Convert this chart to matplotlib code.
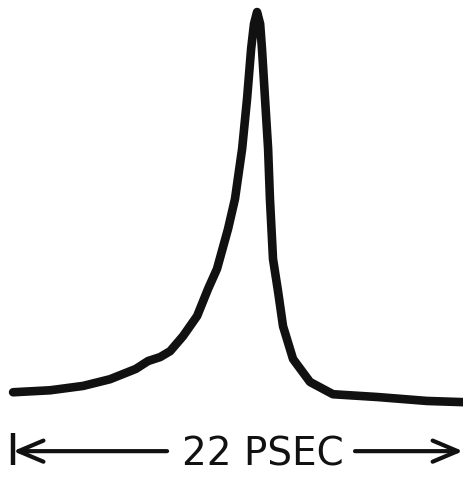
import numpy as np
import matplotlib.pyplot as plt

# pulse shape, time in psec, intensity normalised to the peak
time_ps = [0.00, 1.81, 3.42, 4.74, 6.00, 6.60, 7.19, 7.68, 8.31, 9.00, 9.53,
           9.97, 10.51, 10.85, 11.20, 11.44, 11.64, 11.78, 11.93,
           12.08, 12.17, 12.32, 12.47, 12.56, 12.71, 12.96, 13.20, 13.69,
           14.52, 15.64, 17.80, 20.24, 22.00]
intensity = [0.030, 0.035, 0.046, 0.063, 0.089, 0.109, 0.119, 0.134, 0.172, 0.223, 0.291,
             0.342, 0.443, 0.519, 0.646, 0.772, 0.899, 0.962, 0.992,
             0.962, 0.899, 0.772, 0.646, 0.519, 0.367, 0.284, 0.197, 0.114,
             0.056, 0.025, 0.018, 0.008, 0.005]

span_ps = 22
span_label = "22 PSEC"

fig = plt.figure(figsize=(4.63, 4.81), dpi=100)
ax = fig.add_axes([0, 0, 1, 1])
ax.set_xlim(-0.64, 22.0)
ax.set_ylim(-0.192, 1.025)
ax.axis("off")

ax.plot(time_ps, intensity, color="#111111", lw=6.2,
        solid_capstyle="round", solid_joinstyle="round")

# time-scale bar under the trace
y_bar = -0.119
arrow_kw = dict(arrowstyle="->,head_length=0.9,head_width=0.38",
                color="#111111", lw=3.0, mutation_scale=20,
                shrinkA=0, shrinkB=0)
ax.annotate("", xy=(0, y_bar), xytext=(7.53, y_bar), arrowprops=arrow_kw,
            annotation_clip=False)
ax.annotate("", xy=(span_ps, y_bar), xytext=(16.72, y_bar), arrowprops=arrow_kw,
            annotation_clip=False)
ax.plot([0, 0], [y_bar - 0.035, y_bar + 0.045], color="#111111", lw=3.2,
        solid_capstyle="butt", clip_on=False)
ax.text(12.2, -0.152, span_label, ha="center", va="baseline",
        fontsize=28, color="#111111", family="DejaVu Sans")

fig.savefig("out.png", dpi=100)
